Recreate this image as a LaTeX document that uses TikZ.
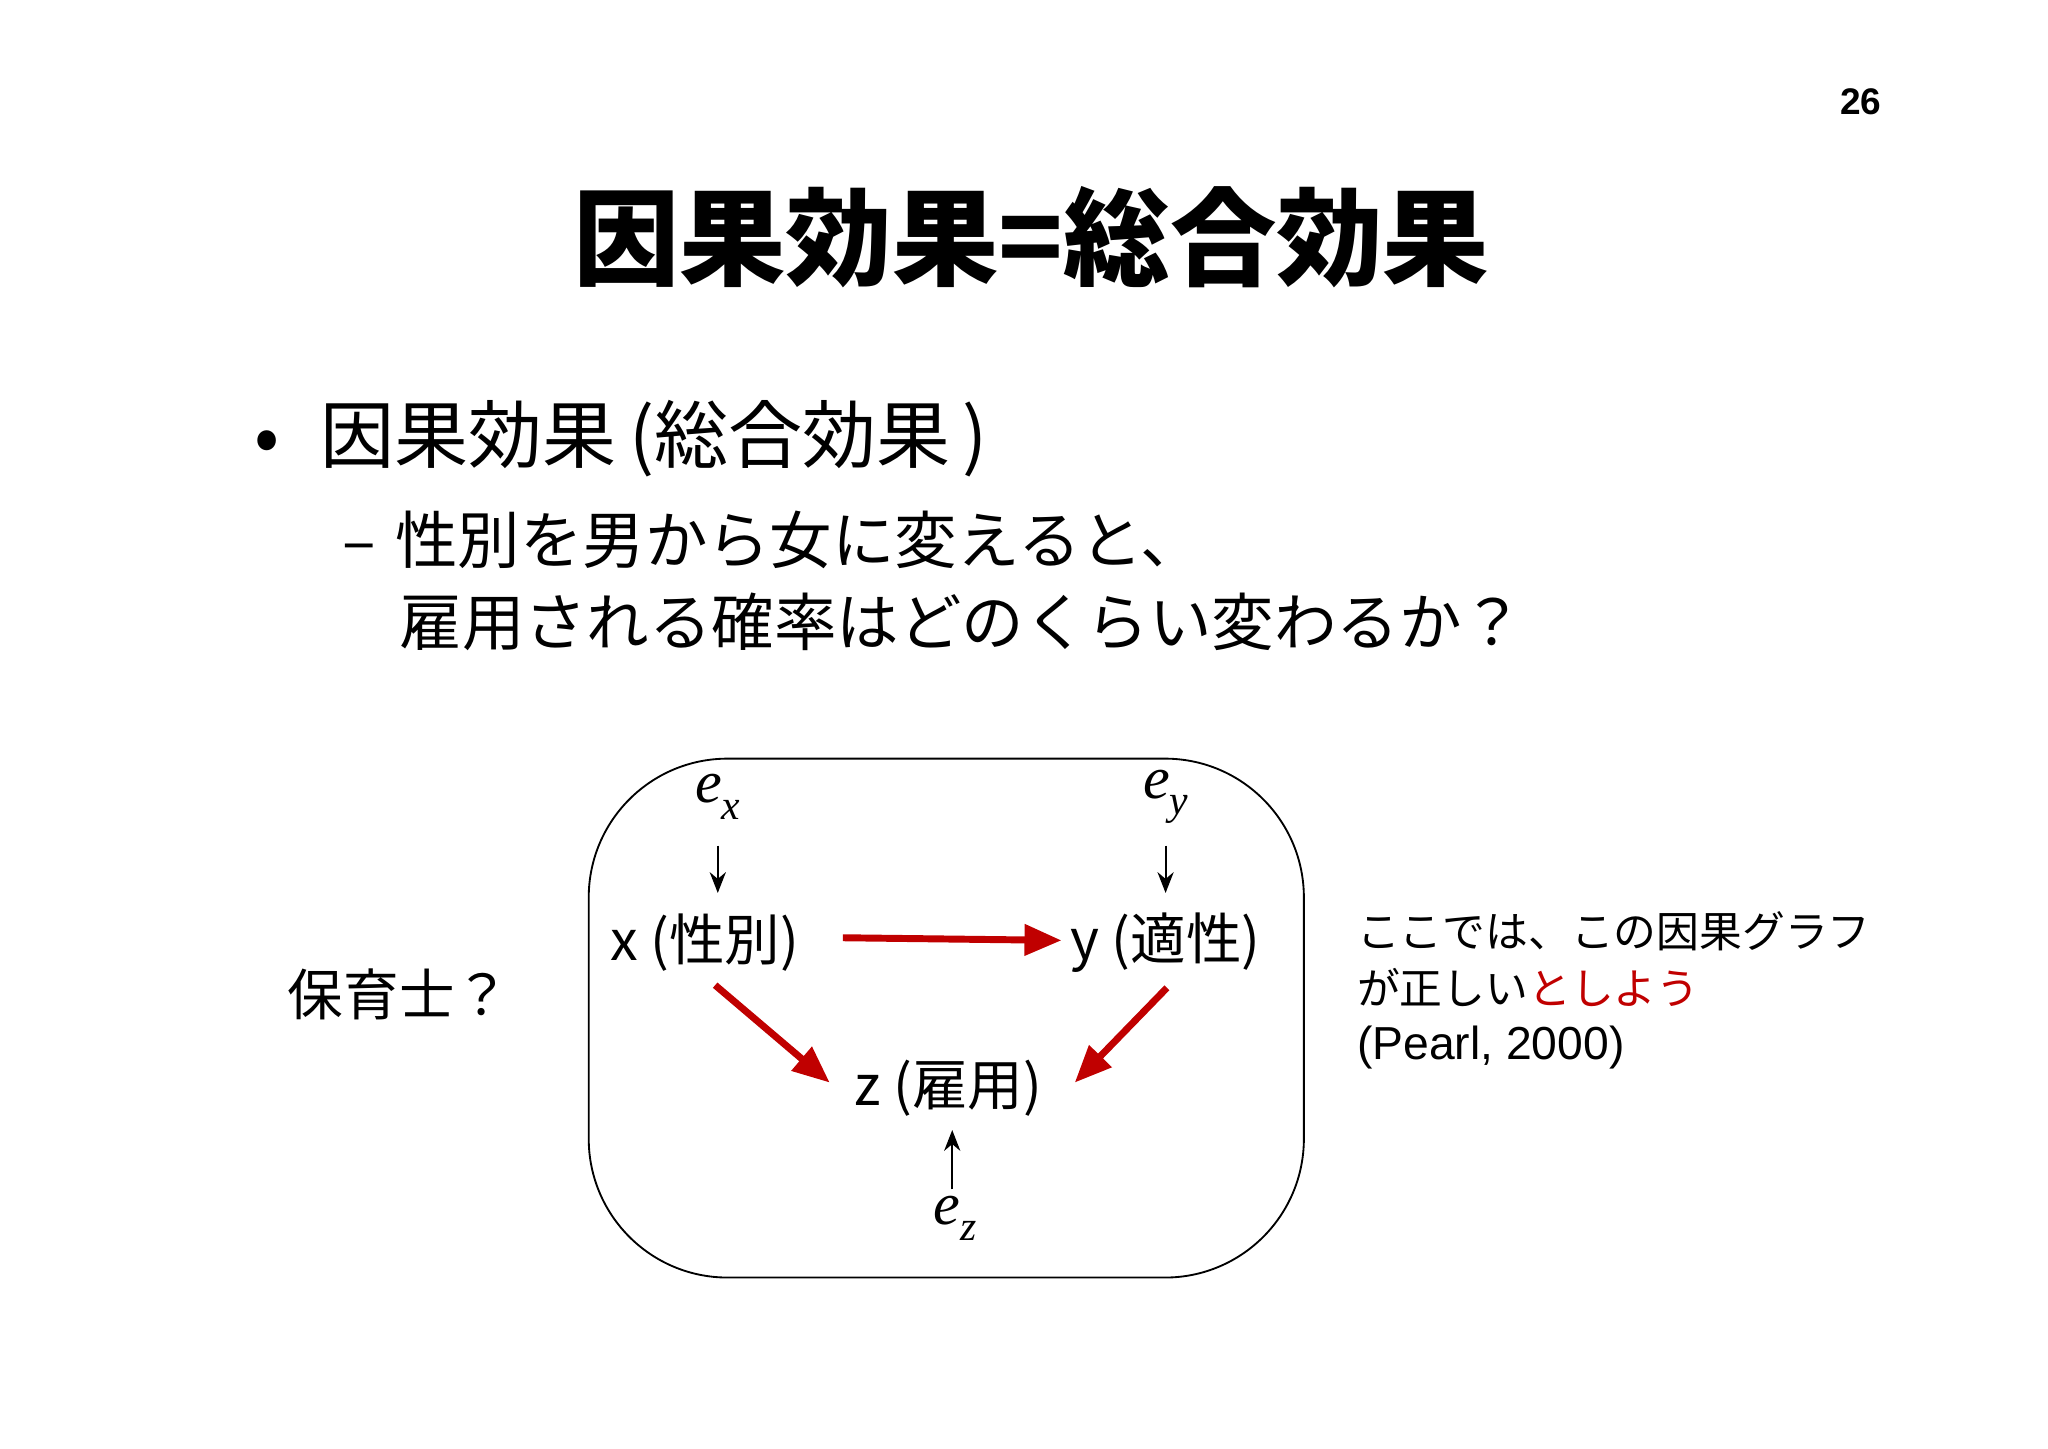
\documentclass[tikz,border=0pt]{standalone}
\usepackage{fontspec}
\setmainfont{Liberation Sans}
\newfontfamily\jp{Noto Sans CJK JP}
\newfontfamily\jpb{Noto Sans CJK JP Black}
\newfontfamily\tms{Liberation Serif}
\usetikzlibrary{arrows.meta}
\definecolor{myred}{RGB}{192,0,0}
\begin{document}
\begin{tikzpicture}[x=0.02cm,y=-0.02cm,
  lbl/.style={font=\fontsize{24}{28}\selectfont\jp,inner sep=0pt},
  mth/.style={font=\fontsize{26}{28}\selectfont\tms\itshape,inner sep=0pt},
  small/.style={-{Stealth[length=9pt,width=7pt]},line width=0.8pt},
  big/.style={-{Triangle[length=16pt,width=13pt]},line width=3pt,myred}]
\useasboundingbox (0,0) rectangle (1555,1100);
\node[font=\fontsize{16}{18}\selectfont\bfseries] (pg) at (1413,77) {26};
\node[font=\fontsize{46}{50}\selectfont\jpb] (title) at (783,180) {因果効果=総合効果};
\node[anchor=west,font=\fontsize{32}{36}\selectfont\jp,inner sep=0pt] (b1) at (193,333) {•\hspace{0.55em}因果効果\,(総合効果\,)};
\node[anchor=west,font=\fontsize{27}{32}\selectfont\jp,inner sep=0pt] (b2) at (260,410) {–\hspace{0.3em}性別を男から女に変えると、};
\node[anchor=west,font=\fontsize{27}{32}\selectfont\jp,inner sep=0pt] (b3) at (303,472) {雇用される確率はどのくらい変わるか？};
\draw[line width=0.8pt,rounded corners=60] (447,576) rectangle (990,970);
\node[mth] (ex) at (545,605) {e\raisebox{-0.6ex}{\fontsize{18}{20}\selectfont x}};
\node[mth] (ey) at (885,605) {e\raisebox{-0.6ex}{\fontsize{18}{20}\selectfont y}};
\node[mth] (ez) at (725,925) {e\raisebox{-0.6ex}{\fontsize{18}{20}\selectfont z}};
\node[lbl] (x) at (535,716) {x (性別)};
\node[lbl] (y) at (885,716) {y (適性)};
\node[lbl] (z) at (720,826) {z (雇用)};
\coordinate (exa) at (545,642); \coordinate (exb) at (545,678);
\coordinate (eya) at (885,642); \coordinate (eyb) at (885,678);
\coordinate (eza) at (723,903); \coordinate (ezb) at (723,858);
\draw[small] (exa) -- (exb);
\draw[small] (eya) -- (eyb);
\draw[small] (eza) -- (ezb);
\coordinate (r1a) at (640,712); \coordinate (r1b) at (806,714);
\coordinate (r2a) at (543,748); \coordinate (r2b) at (630,822);
\coordinate (r3a) at (886,750); \coordinate (r3b) at (816,822);
\draw[big] (r1a) -- (r1b);
\draw[big] (r2a) -- (r2b);
\draw[big] (r3a) -- (r3b);
\node[font=\fontsize{24}{28}\selectfont\jp,inner sep=0pt] (hoiku) at (303,755) {保育士？};
\node[anchor=west,font=\fontsize{18.5}{22}\selectfont\jp,inner sep=0pt] (t1) at (1030,707) {ここでは、この因果グラフ};
\node[anchor=west,font=\fontsize{18.5}{22}\selectfont\jp,inner sep=0pt] (t2) at (1030,750) {が正しい\textcolor{myred}{としよう}};
\node[anchor=west,font=\fontsize{20}{22}\selectfont,inner sep=0pt] (t3) at (1030,795) {(Pearl, 2000)};
\end{tikzpicture}
\end{document}
